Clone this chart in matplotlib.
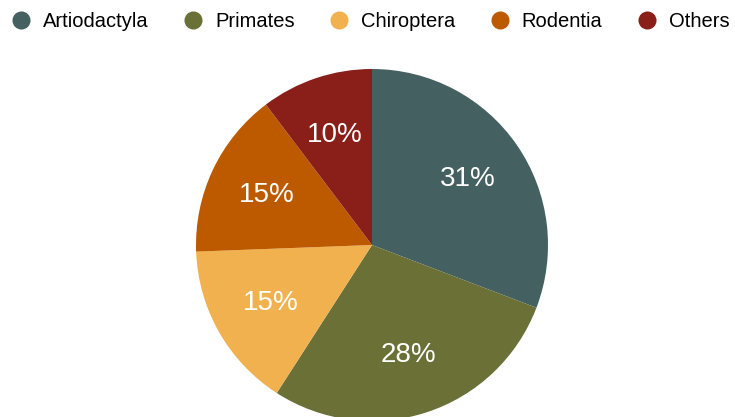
import matplotlib.pyplot as plt
from matplotlib.lines import Line2D

plt.rcParams['font.family'] = ['Liberation Sans', 'DejaVu Sans']

# data (percent of species)
orders = ["Artiodactyla", "Primates", "Chiroptera", "Rodentia", "Others"]
shares = [30.8, 28.3, 15.3, 15.3, 10.3]
colors = ["#456060", "#6a7036", "#f0b14e", "#bd5a00", "#8a1e18"]

fig = plt.figure(figsize=(7.35, 4.17), dpi=100)
ax = fig.add_axes([0, 0, 1, 1])

# pie in pixel units so it can run off the bottom like the original
wedges, texts, pcts = ax.pie(shares, colors=colors, startangle=90, counterclock=False,
                             center=(372, 172), radius=176, autopct='%.0f%%',
                             pctdistance=0.66, wedgeprops=dict(linewidth=0),
                             textprops=dict(color='white', fontsize=20))
ax.set_xlim(0, 735)
ax.set_ylim(0, 417)
ax.axis('off')

# legend with round markers across the top
handles = [Line2D([], [], marker='o', linestyle='', markersize=13,
                  markerfacecolor=c, markeredgewidth=0) for c in colors]
fig.legend(handles, orders, loc='upper left', bbox_to_anchor=(10.7 / 735, 1 - 12 / 417),
           ncol=5, frameon=False, fontsize=14.5, handlelength=1.0, handletextpad=0.6,
           columnspacing=1.7, borderpad=0, borderaxespad=0)

plt.savefig("out.png", dpi=100)
